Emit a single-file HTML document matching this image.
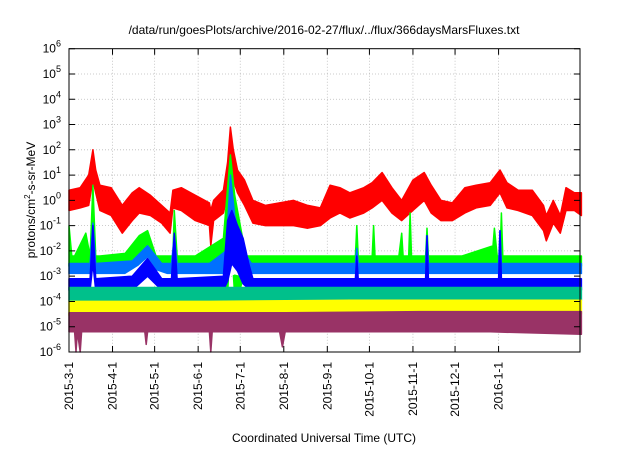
<!DOCTYPE html>
<html><head><meta charset="utf-8"><style>
body{margin:0;background:#fff;width:640px;height:448px;overflow:hidden;font-family:"Liberation Sans",sans-serif}
</style></head><body>
<svg id="chart" width="640" height="448" viewBox="0 0 640 448" font-family="Liberation Sans, sans-serif">
<text x="324" y="34" font-size="12" text-anchor="middle" fill="#000">/data/run/goesPlots/archive/2016-02-27/flux/../flux/366daysMarsFluxes.txt</text>
<text x="324" y="442" font-size="12" text-anchor="middle">Coordinated Universal Time (UTC)</text>
<text transform="translate(35,200) rotate(-90)" font-size="12" text-anchor="middle">protons/cm<tspan dy="-5" font-size="8">2</tspan><tspan dy="5">-s-sr-MeV</tspan></text>
<g id="grid"></g><g id="series"></g><g id="axes"></g>
</svg>
<script>
const yTicks=[-6,-5,-4,-3,-2,-1,0,1,2,3,4,5,6];
const xTickLabels=["2015-3-1","2015-4-1","2015-5-1","2015-6-1","2015-7-1","2015-8-1","2015-9-1","2015-10-1","2015-11-1","2015-12-1","2016-1-1"];
const xTickDays=[0,31,61,92,122,153,184,214,245,275,306];
const seriesColors=["#ff0000","#00ff00","#0070ff","#ffffff","#0000ff","#00c08b","#ffff00","#993366"];
const redDays=[0,8,14,17,19,22,30,38,45,50,58,66,72,74,80,90,100,101,103,110,113,115,117,120,125,131,140,150,160,170,179,186,193,200,210,216,223,230,237,245,253,258,265,273,282,290,300,307,312,320,330,338,340,345,350,354,360,365];
const redLo=[-0.4,-0.3,-0.2,0.8,0.3,-0.4,-0.6,-1.3,-0.8,-0.5,-0.6,-0.9,-1.3,-0.3,-0.4,-0.8,-1.0,-1.8,-0.8,-0.5,0.2,1.0,0.8,0.3,-0.2,-0.9,-1.0,-1.0,-1.0,-1.1,-1.0,-0.7,-0.5,-0.7,-0.5,-0.3,0.0,-0.5,-0.8,-0.4,0.0,-0.5,-0.8,-0.8,-0.5,-0.3,-0.2,0.3,-0.3,-0.4,-0.6,-1.2,-1.6,-0.9,-1.3,-0.4,-0.4,-0.6];
const redHi=[0.4,0.5,1.0,2.0,1.2,0.6,0.5,-0.2,0.3,0.5,0.2,-0.2,-0.5,0.4,0.5,0.2,-0.1,-0.4,0.0,0.4,1.5,2.9,2.0,1.2,0.8,0.0,-0.2,-0.1,0.0,-0.2,-0.3,0.6,0.5,0.3,0.5,0.7,1.1,0.5,0.0,0.8,1.1,0.6,0.0,-0.1,0.5,0.6,0.7,1.2,0.7,0.4,0.4,-0.2,-0.6,0.0,-0.6,0.5,0.3,0.3];
const greenDays=[0,2,4,12,15,17,19,22,40,50,56,62,70,74,75,77,90,110,113,115,118,122,126,130,150,180,204,205,206,216,217,218,235,237,238,242,243,244,254,255,256,280,302,303,305,307,308,309,330,365];
const greenLo=[-2.6,-2.6,-2.6,-2.6,-2.6,-2.2,-2.6,-2.6,-2.6,-2.5,-2.3,-2.6,-2.6,-2.6,-2.6,-2.6,-2.6,-3.4,-3.8,-1.0,-3.8,-3.5,-2.6,-2.6,-2.6,-2.6,-2.6,-2.6,-2.6,-2.6,-2.6,-2.6,-2.6,-2.6,-2.6,-2.6,-2.6,-2.6,-2.6,-2.6,-2.6,-2.6,-2.6,-2.6,-2.6,-2.6,-2.6,-2.6,-2.6,-2.6];
const greenHi=[-1.0,-2.2,-2.2,-1.3,-2.2,0.6,-2.2,-2.2,-2.1,-1.4,-1.2,-2.2,-2.2,-2.2,-0.4,-2.2,-2.2,-1.5,0.5,1.8,0.2,-1.0,-2.2,-2.2,-2.2,-2.2,-2.2,-1.0,-2.2,-2.2,-1.0,-2.2,-2.2,-1.3,-2.2,-2.2,-0.5,-2.2,-2.2,-1.1,-2.2,-2.2,-1.8,-1.1,-2.2,-2.2,-0.5,-2.2,-2.2,-2.2];
const lblueDays=[0,15,17,19,45,56,66,73,75,77,100,112,115,118,124,130,204,205,206,254,255,256,306,307,308,365];
const lblueLo=[-2.9,-2.9,-2.0,-2.9,-2.9,-2.7,-2.9,-2.9,-2.9,-2.9,-2.9,-3.2,-1.5,-2.6,-2.9,-2.9,-2.9,-2.9,-2.9,-2.9,-2.9,-2.9,-2.9,-2.9,-2.9,-2.9];
const lblueHi=[-2.5,-2.5,-0.9,-2.5,-2.4,-1.8,-2.5,-2.5,-1.4,-2.5,-2.5,-2.0,1.0,-0.6,-2.0,-2.5,-2.5,-1.9,-2.5,-2.5,-1.4,-2.5,-2.5,-1.2,-2.5,-2.5];
const whiteDays=[0,40,50,56,62,70,110,118,125,130,365];
const whiteLo=[-3.1,-3.1,-2.9,-2.7,-3.0,-3.1,-3.1,-2.9,-3.0,-3.1,-3.1];
const whiteHi=[-2.95,-2.95,-2.6,-2.3,-2.8,-2.95,-2.95,-2.0,-2.5,-2.95,-2.95];
const blueDays=[0,15,17,19,45,56,66,73,75,77,110,113,116,120,124,128,131,204,205,206,254,255,256,306,307,308,365];
const blueLo=[-3.55,-3.55,-2.5,-3.55,-3.55,-3.0,-3.55,-3.55,-3.5,-3.55,-3.55,-3.2,-2.5,-2.8,-3.3,-3.5,-3.55,-3.55,-3.55,-3.55,-3.55,-3.55,-3.55,-3.55,-3.55,-3.55,-3.55];
const blueHi=[-3.1,-3.1,-1.0,-3.1,-3.0,-2.3,-3.1,-3.1,-1.3,-3.1,-3.0,-0.8,-0.4,-1.0,-1.5,-2.5,-3.1,-3.1,-2.2,-3.1,-3.1,-1.4,-3.1,-3.1,-1.2,-3.1,-3.1];
const tealDays=[0,100,200,300,365];
const tealLo=[-4.0,-4.0,-3.95,-3.95,-3.95];
const tealHi=[-3.45,-3.45,-3.45,-3.45,-3.45];
const yellowDays=[0,100,200,300,365];
const yellowLo=[-4.55,-4.55,-4.5,-4.5,-4.5];
const yellowHi=[-4.0,-4.0,-3.95,-3.95,-3.95];
const purpleDays=[0,4,5,6,8,9,10,54,55,56,100,101,102,150,152,154,250,300,365];
const purpleLo=[-5.2,-5.2,-6.0,-5.2,-6.0,-5.2,-5.2,-5.2,-5.7,-5.2,-5.2,-6.0,-5.2,-5.2,-5.8,-5.2,-5.2,-5.2,-5.3];
const purpleHi=[-4.45,-4.45,-4.45,-4.45,-4.45,-4.45,-4.45,-4.45,-4.45,-4.45,-4.45,-4.45,-4.45,-4.45,-4.45,-4.45,-4.4,-4.4,-4.4];

const X0=69,X1=580,Y0=48.7,Y1=352,DMAX=364;
const xs=d=>X0+(X1-X0)*d/DMAX;
const ys=l=>Y0+(Y1-Y0)*(6-l)/12;
const NS="http://www.w3.org/2000/svg";
function mk(tag,attrs,parent){const e=document.createElementNS(NS,tag);for(const k in attrs)e.setAttribute(k,attrs[k]);parent.appendChild(e);return e;}
const grid=document.getElementById('grid'),axes=document.getElementById('axes'),ser=document.getElementById('series');
yTicks.forEach(t=>{
  const y=ys(t);
  if(t>-6&&t<6){const g=mk('line',{x1:X0,x2:X1,y1:y,y2:y,stroke:'#bbb','stroke-dasharray':'1,2','stroke-width':0.8},grid);
  
  }
  const tk=mk('path',{d:`M${X0},${y}h6M${X1},${y}h-6`,stroke:'#000'},axes);
  
  
  const tx=mk('text',{x:61,y:y+4,'font-size':12,'text-anchor':'end'},axes);
  
  
  tx.innerHTML=`10<tspan dy="-6" font-size="9">${t}</tspan>`;
});
xTickDays.forEach((d,i)=>{
  const x=xs(d);
  if(i>0){const g=mk('line',{x1:x,x2:x,y1:Y0,y2:Y1,stroke:'#bbb','stroke-dasharray':'1,2','stroke-width':0.8},grid);
  
  }
  const tk=mk('path',{d:`M${x},${Y1}v-6M${x},${Y0}v6`,stroke:'#000'},axes);
  
  
  const tx=mk('text',{transform:`translate(${x+4},${Y1+10}) rotate(-90)`,'font-size':12,'text-anchor':'end'},axes);
  
  
  tx.textContent=xTickLabels[i];
});
const frame=mk('rect',{x:X0,y:Y0,width:X1-X0,height:Y1-Y0,fill:'none',stroke:'#000','stroke-width':1},axes);


const all=[["red",redDays,redLo,redHi],["green",greenDays,greenLo,greenHi],["light-blue",lblueDays,lblueLo,lblueHi],["white",whiteDays,whiteLo,whiteHi],["blue",blueDays,blueLo,blueHi],["teal",tealDays,tealLo,tealHi],["yellow",yellowDays,yellowLo,yellowHi],["purple",purpleDays,purpleLo,purpleHi]];
all.forEach((s,i)=>{
  const [nm,D,L,H]=s;
  let p=D.map((d,j)=>`${xs(d).toFixed(1)},${ys(H[j]).toFixed(1)}`);
  for(let j=D.length-1;j>=0;j--)p.push(`${xs(D[j]).toFixed(1)},${ys(L[j]).toFixed(1)}`);
  const e=mk('polygon',{points:p.join(' '),fill:seriesColors[i],stroke:seriesColors[i],'stroke-width':1.5,'stroke-linejoin':'round'},ser);
  
  
});
</script>
</body></html>
